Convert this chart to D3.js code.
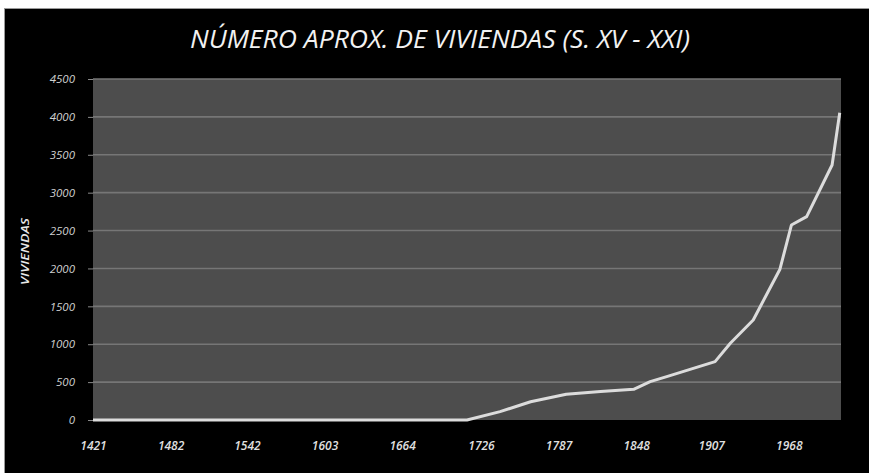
<!DOCTYPE html>
<html>
<head>
<meta charset="utf-8">
<script src="https://cdn.jsdelivr.net/npm/d3@7"></script>
<style>
  body { margin: 0; background: #fff; }
  text { font-family: "Open Sans", "DejaVu Sans", sans-serif; font-style: italic; }
</style>
</head>
<body>
<svg id="main" width="869" height="473"></svg>
<script>
const title = "NÚMERO APROX. DE VIVIENDAS (S. XV - XXI)";
const yTitle = "VIVIENDAS";

// years and approximate number of dwellings
const years = [1421, 1482, 1542, 1603, 1664, 1715, 1741, 1765, 1793, 1820, 1846, 1859, 1872, 1910, 1922, 1940, 1961, 1970, 1982, 2002, 2008];
const viviendas = [0, 0, 0, 0, 0, 0, 110, 241, 339, 375, 405, 506, 572, 770, 1012, 1320, 1990, 2573, 2683, 3365, 4055];

const xTicks = [1421, 1482, 1542, 1603, 1664, 1726, 1787, 1848, 1907, 1968];
const yTicks = [0, 500, 1000, 1500, 2000, 2500, 3000, 3500, 4000, 4500];

const svg = d3.select("#main");
const plot = { left: 93, right: 841, top: 79, bottom: 420 };

// black chart area with thin border
svg.append("rect")
  .attr("x", 4.5).attr("y", 8.5)
  .attr("width", 880).attr("height", 480)
  .attr("fill", "#000")
  .attr("stroke", "#9a9a9a");

const x = d3.scaleLinear().domain([1421, 2009]).range([plot.left, plot.right]);
const y = d3.scaleLinear().domain([0, 4500]).range([plot.bottom, plot.top]);

svg.append("rect")
  .attr("x", plot.left).attr("y", plot.top)
  .attr("width", plot.right - plot.left)
  .attr("height", plot.bottom - plot.top)
  .attr("fill", "#4d4d4d");

// gridlines
svg.append("g")
  .selectAll("line")
  .data(yTicks.slice(1))
  .enter()
  .append("line")
  .attr("x1", plot.left).attr("x2", plot.right)
  .attr("y1", d => y(d)).attr("y2", d => y(d))
  .attr("stroke", "#767676")
  .attr("stroke-width", 1.6);

// y axis
const yAxis = svg.append("g")
  .attr("transform", `translate(${plot.left},0)`)
  .call(d3.axisLeft(y).tickValues(yTicks).tickFormat(d3.format("d")).tickSize(5).tickPadding(13));
yAxis.select(".domain").remove();
yAxis.selectAll(".tick line").attr("stroke", "#8a8a8a");
yAxis.selectAll(".tick text")
  .attr("fill", "#d0d0d0")
  .attr("font-size", 11.5)
  .attr("font-family", null);

// x axis
const xAxis = svg.append("g")
  .attr("transform", `translate(0,${plot.bottom})`)
  .call(d3.axisBottom(x).tickValues(xTicks).tickFormat(d3.format("d")).tickSize(0).tickPadding(21));
xAxis.select(".domain").remove();
xAxis.selectAll(".tick text")
  .attr("fill", "#e0e0e0")
  .attr("font-size", 12)
  .attr("font-weight", 600)
  .attr("font-family", null);

// line
const line = d3.line()
  .x((d, i) => x(years[i]))
  .y(d => y(d));

svg.append("path")
  .datum(viviendas)
  .attr("d", line)
  .attr("fill", "none")
  .attr("stroke", "#dcdcdc")
  .attr("stroke-width", 3)
  .attr("stroke-linejoin", "round");

// titles
svg.append("text")
  .attr("x", 440).attr("y", 48)
  .attr("text-anchor", "middle")
  .attr("fill", "#f2f2f2")
  .attr("font-size", 25)
  .attr("textLength", 500)
  .attr("lengthAdjust", "spacingAndGlyphs")
  .text(title);

svg.append("text")
  .attr("transform", `translate(29,${(plot.top + plot.bottom) / 2 + 2}) rotate(-90)`)
  .attr("text-anchor", "middle")
  .attr("fill", "#e8e8e8")
  .attr("font-size", 10)
  .attr("font-weight", 600)
  .attr("textLength", 67)
  .attr("lengthAdjust", "spacingAndGlyphs")
  .text(yTitle);
</script>
</body>
</html>
